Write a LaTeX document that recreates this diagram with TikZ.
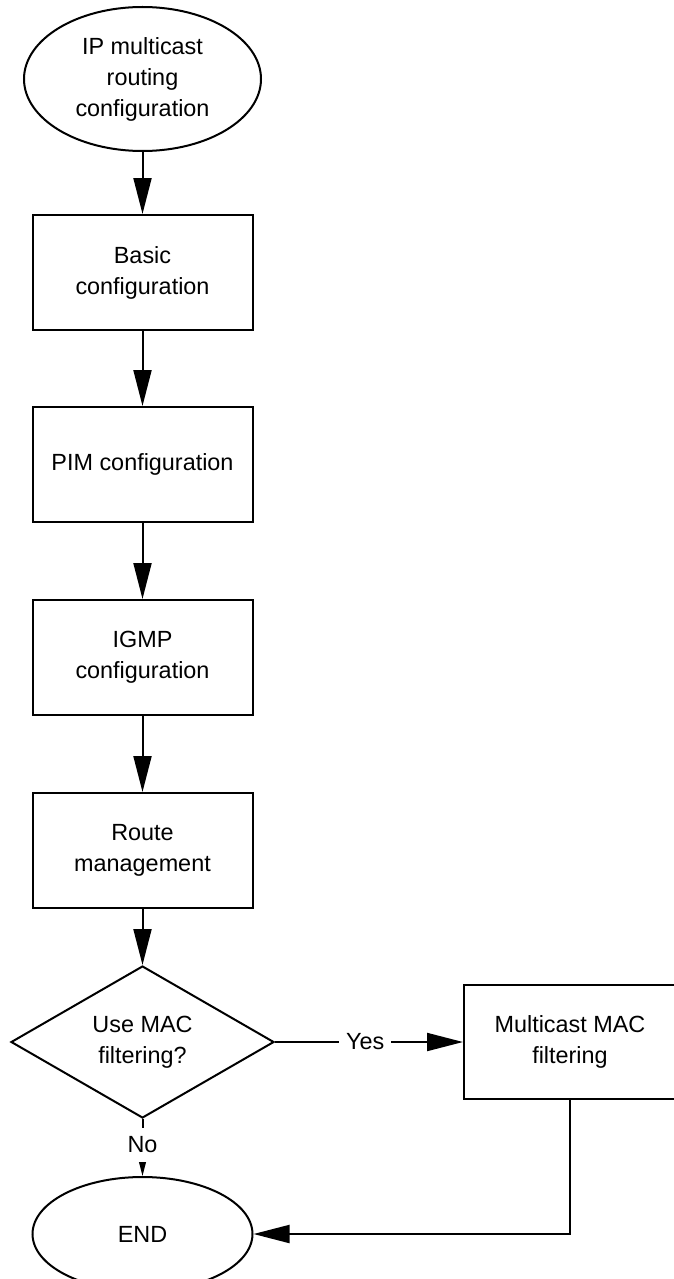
\documentclass[tikz,border=0pt]{standalone}
\usepackage{fontspec}
\setmainfont{Liberation Sans}
\usetikzlibrary{arrows.meta,positioning,shapes.geometric}

\begin{document}
\begin{tikzpicture}[
  x=0.5pt, y=0.5pt,
  box/.style={draw, line width=1pt, align=center, minimum width=110pt, minimum height=57.5pt, inner sep=0pt},
  term/.style={draw, ellipse, line width=1pt, align=center, inner sep=0pt},
  decide/.style={draw, diamond, aspect=1.73, line width=1pt, align=center, minimum width=131.5pt, minimum height=76pt, inner sep=0pt},
  arrow/.style={-{Triangle[length=18pt, width=9pt]}, line width=1pt},
  lbl/.style={fill=white, inner xsep=3.5pt, inner ysep=4.5pt},
  font=\fontsize{11.7}{15.5}\selectfont,
]
\useasboundingbox (0,0) rectangle (674,-1279);

\node[term, minimum width=118.5pt, minimum height=72pt] (start) at (142.5,-79) {IP multicast\\routing\\configuration};
\node[box, below=31pt of start] (basic) {Basic\\configuration};
\node[box, below=37.5pt of basic] (pim) {PIM configuration};
\node[box, below=38pt of pim] (igmp) {IGMP\\configuration};
\node[box, below=38pt of igmp] (route) {Route\\management};

\node[decide, below=28pt of route] (usemac) {Use MAC\\filtering?};
\node[box, minimum width=106pt, minimum height=57pt, right=94pt of usemac] (macfilter) {Multicast MAC\\filtering};
\node[term, minimum width=110pt, minimum height=57pt, below=28.5pt of usemac] (end) {END};

\draw[arrow] (start) -- (basic);
\draw[arrow] (basic) -- (pim);
\draw[arrow] (pim) -- (igmp);
\draw[arrow] (igmp) -- (route);
\draw[arrow] (route) -- (usemac);
\draw[arrow] (usemac) -- node[lbl, pos=0.48] {Yes} (macfilter);
\draw[arrow] (usemac) -- node[lbl, pos=0.45] {No} (end);
\draw[arrow] (macfilter) |- (end);
\end{tikzpicture}
\end{document}
